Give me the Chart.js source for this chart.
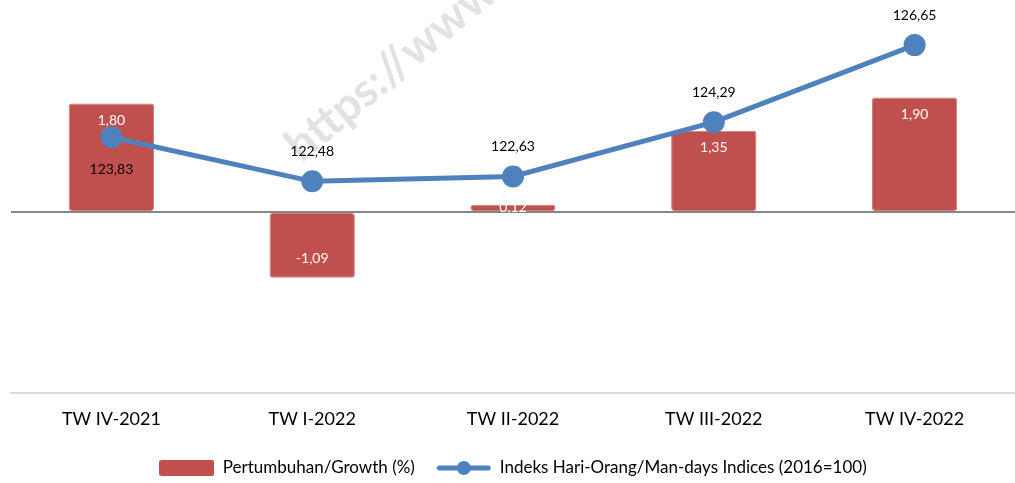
<!DOCTYPE html>
<html>
<head>
<meta charset="utf-8">
<script src="https://cdn.jsdelivr.net/npm/chart.js@4/dist/chart.umd.min.js"></script>
<style>
  body { margin: 0; background: #fff; }
  #wrap { width: 1015px; height: 483px; }
</style>
</head>
<body>
<div id="wrap"><canvas id="chart" width="1015" height="483"></canvas></div>
<script>
const quarters = ['TW IV-2021', 'TW I-2022', 'TW II-2022', 'TW III-2022', 'TW IV-2022'];
const growth = [1.80, -1.09, 0.12, 1.35, 1.90];
const indices = [123.83, 122.48, 122.63, 124.29, 126.65];
const indexLabelBelow = [true, false, false, false, false];

const growthLabel = 'Pertumbuhan/Growth (%)';
const indexLabel = 'Indeks Hari-Orang/Man-days Indices (2016=100)';

const red = '#C0504D';
const blue = '#4F81BD';
const fontName = 'Lato, "Open Sans", sans-serif';

function fmt(v) {
    return v.toFixed(2).replace('.', ',');
}

// legend swatches
function makeBarSwatch() {
    const c = document.createElement('canvas');
    c.width = 55; c.height = 16;
    const g = c.getContext('2d');
    g.fillStyle = red;
    g.beginPath();
    g.roundRect(0, 0, 55, 16, 2);
    g.fill();
    return c;
}

function makeLineSwatch() {
    const c = document.createElement('canvas');
    c.width = 55; c.height = 16;
    const g = c.getContext('2d');
    g.strokeStyle = blue;
    g.lineWidth = 5;
    g.lineCap = 'round';
    g.beginPath();
    g.moveTo(3, 8);
    g.lineTo(52, 8);
    g.stroke();
    g.fillStyle = blue;
    g.beginPath();
    g.arc(27.5, 8, 7, 0, Math.PI * 2);
    g.fill();
    return c;
}

const watermark = {
    id: 'watermark',
    beforeDraw(chart) {
        const ctx = chart.ctx;
        ctx.save();
        ctx.translate(292, 152);
        ctx.rotate(-40 * Math.PI / 180);
        ctx.font = 'bold 46px ' + fontName;
        ctx.fillStyle = '#e2e2e2';
        ctx.textAlign = 'left';
        ctx.textBaseline = 'middle';
        ctx.fillText('https://www', 0, 0);
        ctx.restore();
    }
};

const valueLabels = {
    id: 'valueLabels',
    afterDatasetsDraw(chart) {
        const ctx = chart.ctx;
        ctx.save();
        ctx.font = '14px ' + fontName;
        ctx.textAlign = 'center';
        ctx.textBaseline = 'middle';

        const barMeta = chart.getDatasetMeta(0);
        barMeta.data.forEach((bar, i) => {
            const v = growth[i];
            const h = Math.abs(bar.base - bar.y);
            let y;
            if (h < 30) {
                y = (bar.base + bar.y) / 2;
            } else if (v >= 0) {
                y = bar.y + 17;
            } else {
                y = bar.y - 19;
            }
            ctx.fillStyle = '#ffffff';
            ctx.fillText(fmt(v), bar.x, y);
        });

        const lineMeta = chart.getDatasetMeta(1);
        lineMeta.data.forEach((pt, i) => {
            const y = indexLabelBelow[i] ? pt.y + 32 : pt.y - 30;
            ctx.fillStyle = '#000000';
            ctx.fillText(fmt(indices[i]), pt.x, y);
        });
        ctx.restore();
    }
};

new Chart(document.getElementById('chart'), {
    type: 'bar',
    data: {
        labels: quarters,
        datasets: [{
            type: 'bar',
            label: growthLabel,
            data: growth,
            yAxisID: 'yBar',
            backgroundColor: red,
            borderColor: '#d27a77',
            borderWidth: 1,
            borderRadius: 3,
            borderSkipped: false,
            barPercentage: 0.425,
            categoryPercentage: 1,
            order: 2
        }, {
            type: 'line',
            label: indexLabel,
            data: indices,
            yAxisID: 'yLine',
            borderColor: blue,
            backgroundColor: blue,
            borderWidth: 5,
            pointRadius: 11,
            pointHoverRadius: 11,
            pointBackgroundColor: blue,
            pointBorderWidth: 0,
            tension: 0,
            clip: false,
            order: 1
        }]
    },
    options: {
        responsive: false,
        animation: false,
        layout: { autoPadding: false, padding: { left: 11, right: 0, top: 1, bottom: -3.5 } },
        plugins: {
            tooltip: { enabled: false },
            legend: {
                position: 'bottom',
                labels: {
                    usePointStyle: true,
                    pointStyleWidth: 55,
                    boxHeight: 16,
                    padding: 21.5,
                    color: '#000',
                    font: { family: fontName, size: 17 },
                    generateLabels(chart) {
                        return [
                            { text: growthLabel, pointStyle: makeBarSwatch(), fillStyle: red, strokeStyle: red, lineWidth: 0, datasetIndex: 0, hidden: false },
                            { text: indexLabel, pointStyle: makeLineSwatch(), fillStyle: blue, strokeStyle: blue, lineWidth: 0, datasetIndex: 1, hidden: false }
                        ];
                    }
                }
            }
        },
        scales: {
            x: {
                grid: { display: false, drawTicks: false },
                border: { color: '#d9d9d9', width: 2 },
                ticks: {
                    color: '#000',
                    padding: 15,
                    font: { family: fontName, size: 18 }
                },
                afterFit(scale) {
                    scale.height = 45;
                    scale.paddingLeft = 0;
                    scale.paddingRight = 0;
                }
            },
            yBar: {
                position: 'left',
                min: -3,
                max: 3.5,
                ticks: { display: false, stepSize: 0.5 },
                border: { display: false },
                grid: {
                    drawTicks: false,
                    lineWidth: 2,
                    color: (c) => c.tick && c.tick.value === 0 ? '#868686' : 'rgba(0,0,0,0)'
                },
                afterFit(scale) {
                    scale.width = 0;
                    scale.paddingTop = 0;
                    scale.paddingBottom = 0;
                }
            },
            yLine: {
                position: 'right',
                min: 116,
                max: 128,
                display: false
            }
        }
    },
    plugins: [watermark, valueLabels]
});
</script>
</body>
</html>
